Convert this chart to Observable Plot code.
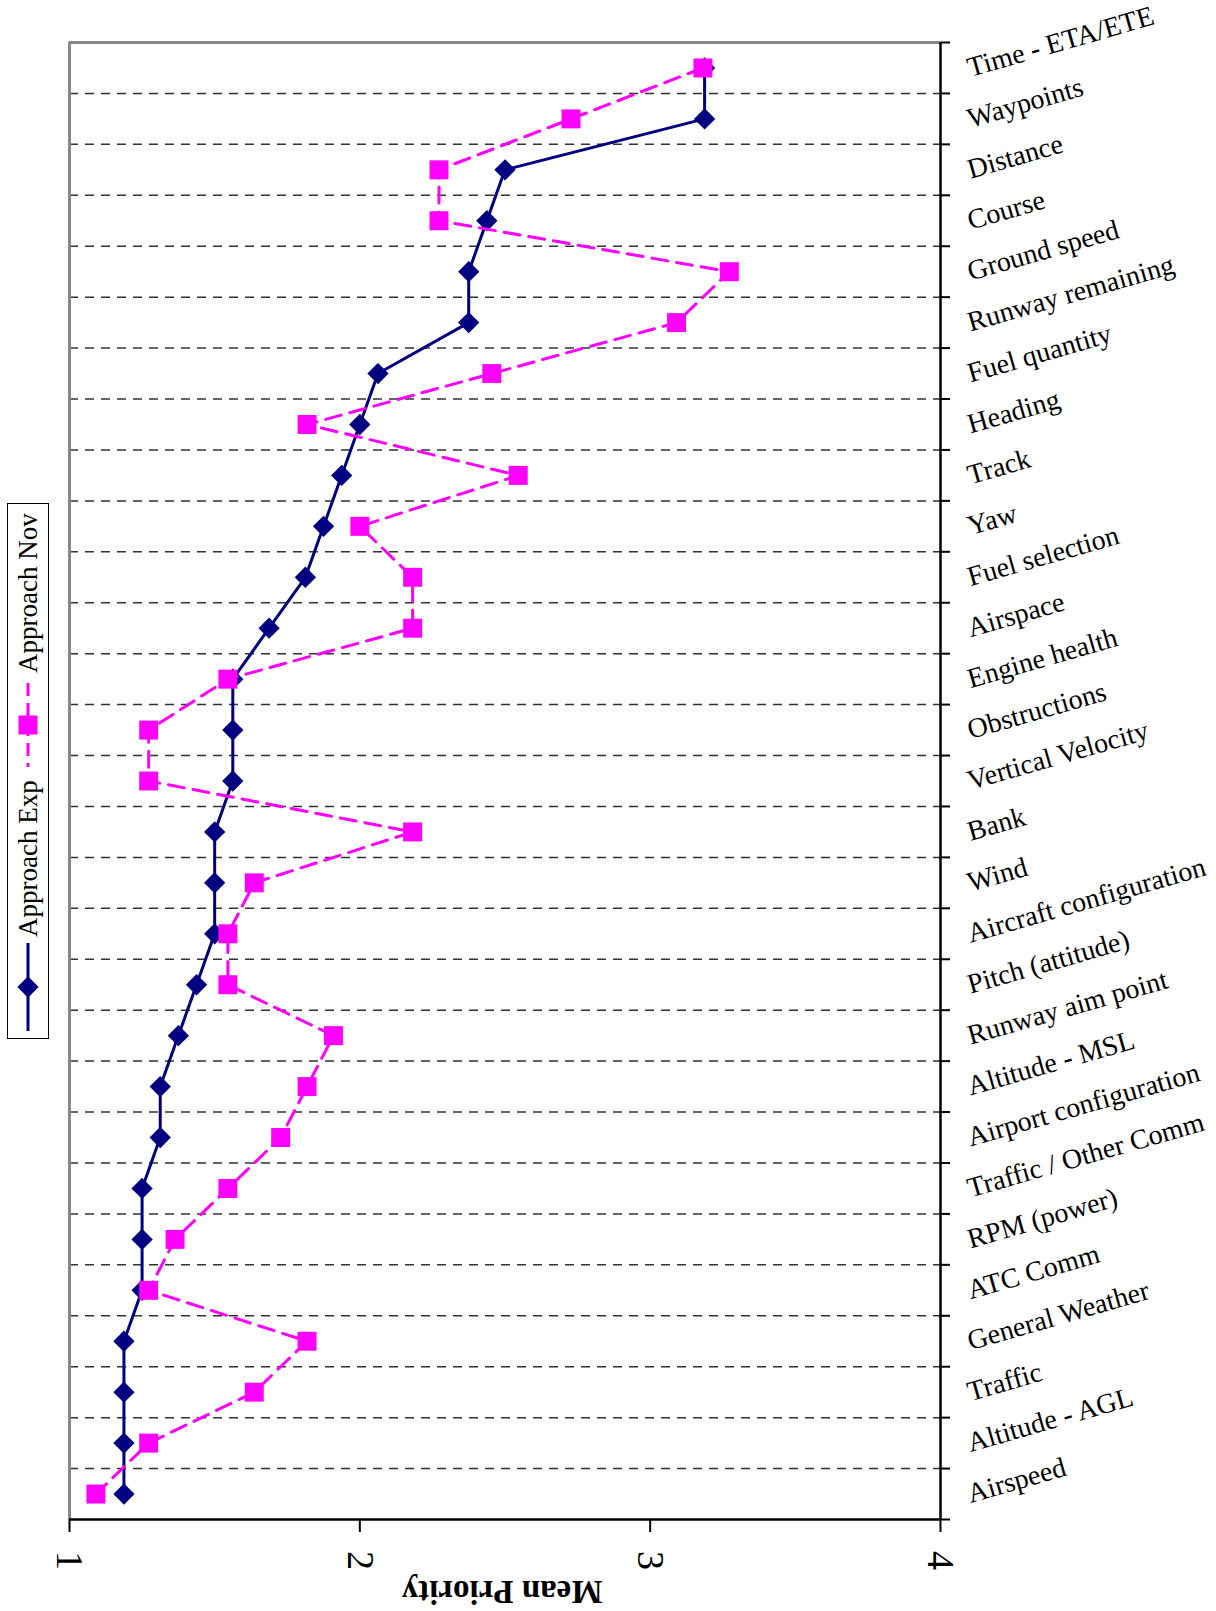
<!DOCTYPE html>
<html>
<head>
<meta charset="utf-8">
<script src="https://cdn.jsdelivr.net/npm/d3@7"></script>
<script src="https://cdn.jsdelivr.net/npm/@observablehq/plot@0.6"></script>
<style>
  html, body { margin: 0; padding: 0; background: #fff; }
  #wrap { position: relative; width: 1216px; height: 1611px; }
  #legend { position: absolute; left: 0; top: 0; }
</style>
</head>
<body>
<div id="wrap"></div>
<script>
const categories = [
  "Time - ETA/ETE", "Waypoints", "Distance", "Course", "Ground speed",
  "Runway remaining", "Fuel quantity", "Heading", "Track", "Yaw",
  "Fuel selection", "Airspace", "Engine health", "Obstructions", "Vertical Velocity",
  "Bank", "Wind", "Aircraft configuration", "Pitch (attitude)", "Runway aim point",
  "Altitude - MSL", "Airport configuration", "Traffic / Other Comm", "RPM (power)", "ATC Comm",
  "General Weather", "Traffic", "Altitude - AGL", "Airspeed"
];
const expValues = [
  3.1875, 3.1875, 2.5, 2.4375, 2.375,
  2.375, 2.0625, 2.0, 1.9375, 1.875,
  1.8125, 1.6875, 1.5625, 1.5625, 1.5625,
  1.5, 1.5, 1.5, 1.4375, 1.375,
  1.3125, 1.3125, 1.25, 1.25, 1.25,
  1.1875, 1.1875, 1.1875, 1.1875
];
const novValues = [
  3.1818, 2.7273, 2.2727, 2.2727, 3.2727,
  3.0909, 2.4545, 1.8182, 2.5455, 2.0,
  2.1818, 2.1818, 1.5455, 1.2727, 1.2727,
  2.1818, 1.6364, 1.5455, 1.5455, 1.9091,
  1.8182, 1.7273, 1.5455, 1.3636, 1.2727,
  1.8182, 1.6364, 1.2727, 1.0909
];
const valueTicks = [1, 2, 3, 4];
const seriesNames = ["Approach Exp", "Approach Nov"];
const axisTitle = "Mean Priority";

const FONT = "'Liberation Serif', 'Times New Roman', serif";
const NAVY = "#000080";
const MAGENTA = "#FF00FF";

const rows = categories.map((c, i) => ({cat: c, i, exp: expValues[i], nov: novValues[i]}));
const n = categories.length;
const boundaries = d3.range(1, n).map(k => k - 0.5);
const allBoundaries = d3.range(0, n + 1).map(k => k - 0.5);

const chart = Plot.plot({
  width: 1216,
  height: 1611,
  marginLeft: 69,
  marginRight: 276,
  marginTop: 42,
  marginBottom: 92,
  style: {fontFamily: FONT, background: "#fff", color: "#000"},
  x: {domain: [1, 4]},
  y: {domain: [-0.5, n - 0.5], reverse: true},
  marks: [
    Plot.ruleY(boundaries, {y: d => d, stroke: "#333", strokeWidth: 1.5, strokeDasharray: "9,7"}),
    Plot.ruleX([1], {x: d => d, stroke: "#888", strokeWidth: 3}),
    Plot.ruleY([-0.5], {y: d => d, stroke: "#888", strokeWidth: 3}),
    Plot.ruleX([4], {x: d => d, stroke: "#000", strokeWidth: 2.5}),
    Plot.ruleY([n - 0.5], {y: d => d, stroke: "#000", strokeWidth: 2.5}),
    Plot.axisY(allBoundaries, {anchor: "right", tickSize: 9, tickFormat: () => "", label: null, strokeWidth: 2}),
    Plot.axisX(valueTicks, {anchor: "bottom", tickSize: 13, tickFormat: () => "", label: null, strokeWidth: 2}),
    Plot.text(valueTicks, {x: d => d, text: d => String(d), frameAnchor: "bottom", lineAnchor: "middle", dy: 41, rotate: 90, fontSize: 38, fill: "#000"}),
    Plot.text([{v: 2.49, t: axisTitle}], {x: "v", text: "t", frameAnchor: "bottom", lineAnchor: "middle", dy: 72, rotate: 180, fontSize: 33, fontWeight: "bold", fill: "#000"}),
    Plot.text(rows, {x: () => 4, y: "i", text: "cat", dx: 30, dy: 9, rotate: -16, textAnchor: "start", lineAnchor: "bottom", fontSize: 28, fill: "#000"}),
    Plot.line(rows, {x: "exp", y: "i", stroke: NAVY, strokeWidth: 3, curve: "linear"}),
    Plot.dot(rows, {x: "exp", y: "i", symbol: "diamond2", r: 9.6, fill: NAVY, stroke: "none"}),
    Plot.line(rows, {x: "nov", y: "i", stroke: MAGENTA, strokeWidth: 3, strokeDasharray: "16,9", curve: "linear"}),
    Plot.dot(rows, {x: "nov", y: "i", symbol: "square", r: 10.7, fill: MAGENTA, stroke: "none"})
  ]
});
document.getElementById("wrap").appendChild(chart);

// Legend (rotated, left of plot)
const lg = d3.select("#wrap").append("svg")
  .attr("id", "legend")
  .attr("width", 60).attr("height", 1100)
  .style("font-family", FONT);
lg.append("rect").attr("x", 7.5).attr("y", 503.5).attr("width", 41).attr("height", 535)
  .attr("fill", "#fff").attr("stroke", "#000").attr("stroke-width", 1);
// Exp
lg.append("line").attr("x1", 28).attr("x2", 28).attr("y1", 943).attr("y2", 1031)
  .attr("stroke", NAVY).attr("stroke-width", 3);
lg.append("path").attr("d", d3.symbol(d3.symbolDiamond2, Math.PI * 9.6 * 9.6)())
  .attr("transform", "translate(28,987)").attr("fill", NAVY);
lg.append("text").attr("transform", "translate(37,937) rotate(-90)")
  .attr("font-size", 27).attr("text-anchor", "start").text(seriesNames[0]);
// Nov
lg.append("line").attr("x1", 28).attr("x2", 28).attr("y1", 683).attr("y2", 767)
  .attr("stroke", MAGENTA).attr("stroke-width", 3).attr("stroke-dasharray", "13,7");
lg.append("rect").attr("x", 28 - 9.5).attr("y", 725 - 9.5).attr("width", 19).attr("height", 19)
  .attr("fill", MAGENTA);
lg.append("text").attr("transform", "translate(37,673) rotate(-90)")
  .attr("font-size", 27).attr("text-anchor", "start").text(seriesNames[1]);
</script>
</body>
</html>
